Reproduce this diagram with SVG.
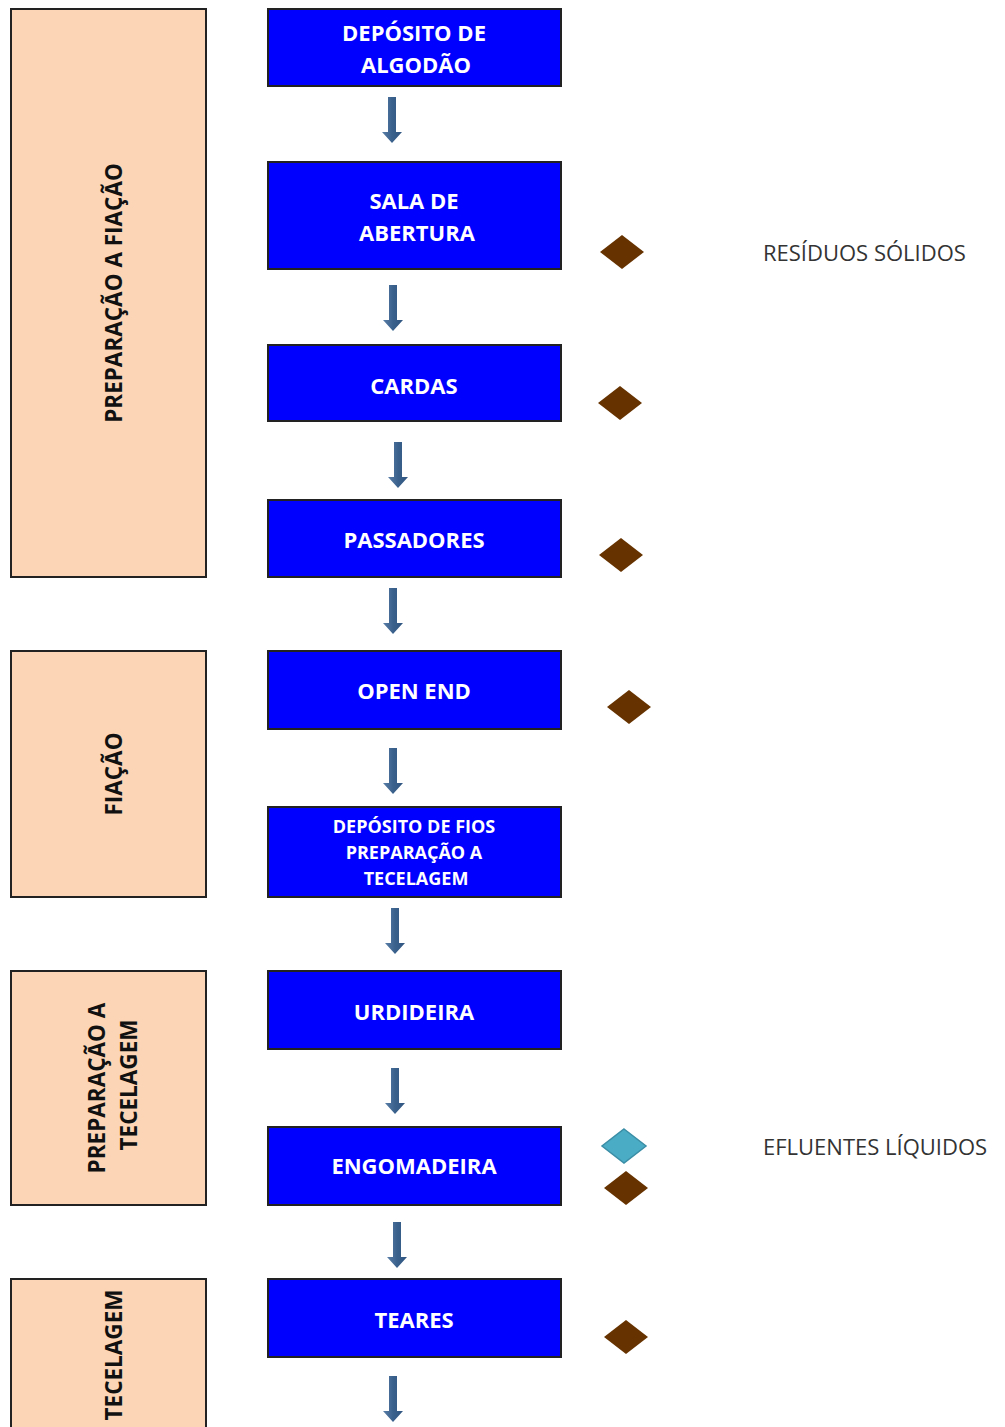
<svg xmlns="http://www.w3.org/2000/svg" width="1005" height="1427" viewBox="0 0 1005 1427">
  <defs>
    <linearGradient id="shaft" x1="0" y1="0" x2="1" y2="0">
      <stop offset="0" stop-color="#5a7fa8"/>
      <stop offset="0.5" stop-color="#3a618c"/>
      <stop offset="1" stop-color="#2f5580"/>
    </linearGradient>
    <!-- block arrow pointing down, origin at top centre, 46 px long -->
    <path id="down" d="M-4,0 H4 V35 H10 L0,46 L-10,35 H-4 Z"/>
    <path id="gem" d="M0,-17 L22,0 L0,17 L-22,0 Z"/>
  </defs>
  <style>
    .stage { fill: #fbd5b5; stroke: #222; stroke-width: 2; }
    .step { fill: #0000ff; stroke: #222; stroke-width: 2; }
    .stepText { font-family: "Open Sans", "Liberation Sans", sans-serif; font-weight: bold; font-size: 22px; fill: #ffffff; text-anchor: middle; dominant-baseline: central; }
    .small { font-size: 18px; }
    .stageText { font-family: "Open Sans", "Liberation Sans", sans-serif; font-weight: bold; font-size: 22.5px; fill: #111; text-anchor: middle; dominant-baseline: central; }
    .legend { font-family: "Open Sans", "Liberation Sans", sans-serif; font-size: 22px; fill: #333; dominant-baseline: central; }
    .solid { fill: #663300; }
    .liquid { fill: #4bacc6; stroke: #3a8ea6; stroke-width: 1.5; }
    .arrow { fill: url(#shaft); }
  </style>

  <!-- stage bands on the left -->
  <g id="stage-preparacao-fiacao">
    <rect class="stage" x="11" y="9" width="195" height="568"/>
    <text class="stageText" transform="translate(113,293) rotate(-90)">PREPARAÇÃO A FIAÇÃO</text>
  </g>
  <g id="stage-fiacao">
    <rect class="stage" x="11" y="651" width="195" height="246"/>
    <text class="stageText" transform="translate(113,774) rotate(-90)">FIAÇÃO</text>
  </g>
  <g id="stage-preparacao-tecelagem">
    <rect class="stage" x="11" y="971" width="195" height="234"/>
    <text class="stageText" transform="translate(96,1088) rotate(-90)">PREPARAÇÃO A</text>
    <text class="stageText" transform="translate(128,1085) rotate(-90)">TECELAGEM</text>
  </g>
  <g id="stage-tecelagem">
    <rect class="stage" x="11" y="1279" width="195" height="160"/>
    <text class="stageText" transform="translate(113,1355) rotate(-90)">TECELAGEM</text>
  </g>

  <!-- process steps -->
  <g id="deposito-algodao">
    <rect class="step" x="268" y="9" width="293" height="77"/>
    <text class="stepText" x="414" y="32">DEPÓSITO DE</text>
    <text class="stepText" x="416" y="64">ALGODÃO</text>
  </g>
  <g id="sala-abertura">
    <rect class="step" x="268" y="162" width="293" height="107"/>
    <text class="stepText" x="414" y="200">SALA DE</text>
    <text class="stepText" x="417" y="232">ABERTURA</text>
  </g>
  <g id="cardas">
    <rect class="step" x="268" y="345" width="293" height="76"/>
    <text class="stepText" x="414" y="385">CARDAS</text>
  </g>
  <g id="passadores">
    <rect class="step" x="268" y="500" width="293" height="77"/>
    <text class="stepText" x="414" y="539">PASSADORES</text>
  </g>
  <g id="open-end">
    <rect class="step" x="268" y="651" width="293" height="78"/>
    <text class="stepText" x="414" y="690">OPEN END</text>
  </g>
  <g id="deposito-fios">
    <rect class="step" x="268" y="807" width="293" height="90"/>
    <text class="stepText small" x="414" y="826">DEPÓSITO DE FIOS</text>
    <text class="stepText small" x="414" y="852">PREPARAÇÃO A</text>
    <text class="stepText small" x="416" y="878">TECELAGEM</text>
  </g>
  <g id="urdideira">
    <rect class="step" x="268" y="971" width="293" height="78"/>
    <text class="stepText" x="414" y="1011">URDIDEIRA</text>
  </g>
  <g id="engomadeira">
    <rect class="step" x="268" y="1127" width="293" height="78"/>
    <text class="stepText" x="414" y="1165">ENGOMADEIRA</text>
  </g>
  <g id="teares">
    <rect class="step" x="268" y="1279" width="293" height="78"/>
    <text class="stepText" x="414" y="1319">TEARES</text>
  </g>

  <!-- flow arrows between steps -->
  <g id="connectors" class="arrow">
    <use href="#down" x="392" y="97"/>
    <use href="#down" x="393" y="285"/>
    <use href="#down" x="398" y="442"/>
    <use href="#down" x="393" y="588"/>
    <use href="#down" x="393" y="748"/>
    <use href="#down" x="395" y="908"/>
    <use href="#down" x="395" y="1068"/>
    <use href="#down" x="397" y="1222"/>
    <use href="#down" x="393" y="1376"/>
  </g>

  <!-- waste markers -->
  <g id="markers">
    <use href="#gem" class="solid" x="622" y="252"/>
    <use href="#gem" class="solid" x="620" y="403"/>
    <use href="#gem" class="solid" x="621" y="555"/>
    <use href="#gem" class="solid" x="629" y="707"/>
    <use href="#gem" class="liquid" x="624" y="1146"/>
    <use href="#gem" class="solid" x="626" y="1188"/>
    <use href="#gem" class="solid" x="626" y="1337"/>
  </g>

  <!-- legend -->
  <g id="legend">
    <text class="legend" x="763" y="252">RESÍDUOS SÓLIDOS</text>
    <text class="legend" x="763" y="1146">EFLUENTES LÍQUIDOS</text>
  </g>
</svg>
